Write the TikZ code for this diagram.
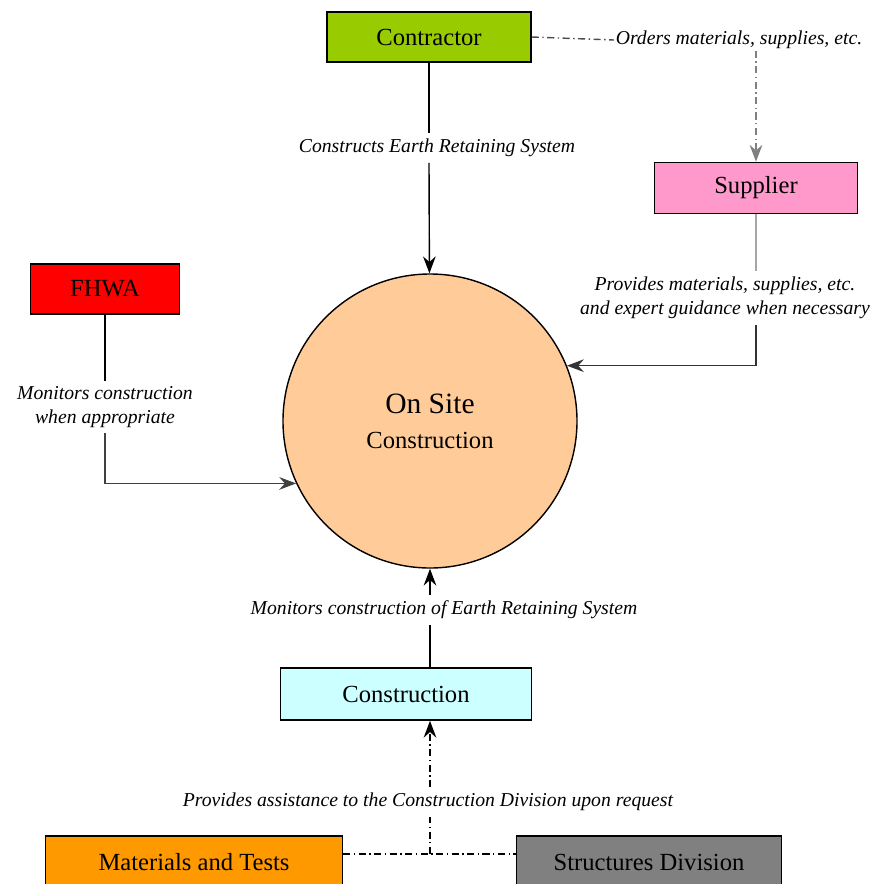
\documentclass[tikz,border=0pt]{standalone}
\usepackage{fontspec}
\setmainfont{Liberation Serif}
\usetikzlibrary{arrows.meta}

\definecolor{ctrgreen}{HTML}{99CC00}
\definecolor{suppink}{HTML}{FF99CC}
\definecolor{fhwared}{HTML}{FF0000}
\definecolor{sitepeach}{HTML}{FFCC99}
\definecolor{conscyan}{HTML}{CCFFFF}
\definecolor{matorange}{HTML}{FF9900}
\definecolor{strgray}{HTML}{808080}

\begin{document}
\begin{tikzpicture}[
  x=0.025cm, y=-0.025cm,
  box/.style={draw, line width=1.1pt, inner sep=0pt, font=\fontsize{17.5}{20}\selectfont},
  lbl/.style={inner sep=4pt, align=center, font=\fontsize{14}{17}\selectfont\itshape},
  arr/.style={-{Stealth[length=12pt, width=9pt, inset=4pt]}},
  link/.style={line width=1pt},
  dd/.style={line width=1pt, dash pattern=on 5pt off 2.5pt on 1pt off 2.5pt}
]
\useasboundingbox (0,0) rectangle (883,884);
\clip (0,0) rectangle (883,884);

% units
\node[box, fill=ctrgreen, minimum width=204*0.025cm, minimum height=50*0.025cm] (ctr) at (429,37) {Contractor};
\node[box, fill=suppink, minimum width=203*0.025cm, minimum height=51*0.025cm] (sup) at (756,188) {Supplier};
\node[box, fill=fhwared, minimum width=149*0.025cm, minimum height=50*0.025cm] (fhwa) at (105,289) {FHWA};
\node[draw, line width=1pt, circle, fill=sitepeach, minimum size=294*0.025cm, inner sep=0pt, align=center,
  font=\fontsize{17.5}{25}\selectfont] (site) at (430,421) {{\fontsize{21}{24}\selectfont On Site}\\Construction};
\node[box, fill=conscyan, minimum width=251*0.025cm, minimum height=52*0.025cm] (cons) at (406,694) {Construction};
\node[box, fill=matorange, minimum width=297*0.025cm, minimum height=52*0.025cm] (mat) at (194,862) {Materials and Tests};
\node[box, fill=strgray, minimum width=265*0.025cm, minimum height=52*0.025cm] (str) at (649,862) {Structures Division};

% labels
\node[lbl] (cers) at (437,148) {Constructs Earth Retaining System};
\node[lbl, inner sep=1pt] (ord) at (739,40) {Orders materials, supplies, etc.};
\node[lbl] (prov) at (725,298) {Provides materials, supplies, etc.\\and expert guidance when necessary};
\node[lbl] (monf) at (105,407) {Monitors construction\\when appropriate};
\node[lbl] (monc) at (444,610) {Monitors construction of Earth Retaining System};
\node[lbl] (asst) at (428,802) {Provides assistance to the Construction Division upon request};
\coordinate (junc) at (430,854);

% connectors
\draw[link] (ctr) -- (cers.north -| ctr);
\draw[link, arr] (cers.south -| ctr) -- (site);
\draw[dd, black!70] (ctr.east) -- (ord.west);
\draw[dd, gray, arr] (ord.south -| sup) -- (sup);
\draw[link, gray!70] (sup) -- (prov.north -| sup);
\draw[link, black!80, arr] (prov.south -| sup) |- (site.22.4);
\draw[link] (fhwa) -- (monf.north -| fhwa);
\draw[link, black!75, arr] (monf.south -| fhwa) |- (site.205.8);
\draw[link] (cons.north -| site) -- (monc.south -| site);
\draw[link, arr] (monc.north -| site) -- (site);
\draw[dd] (mat.east |- junc) -- (str.west |- junc);
\draw[dd] (junc) -- (asst.south -| junc);
\draw[dd, arr] (asst.north -| junc) -- (cons.south -| junc);
\end{tikzpicture}
\end{document}
